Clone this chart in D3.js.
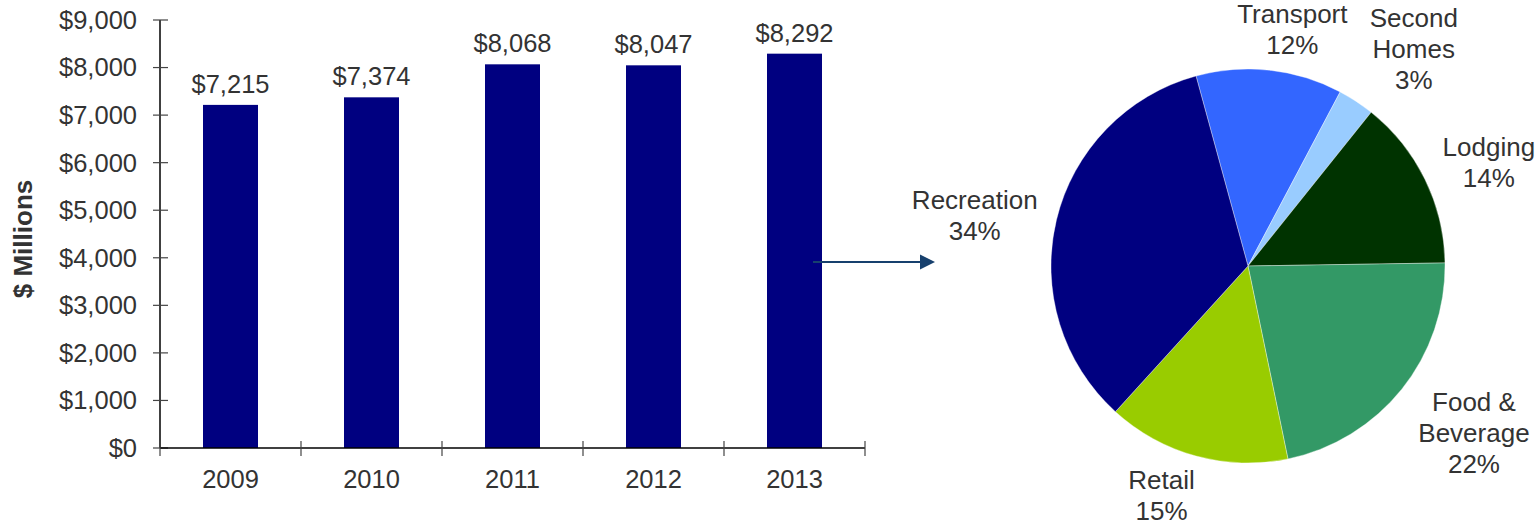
<!DOCTYPE html>
<html>
<head>
<meta charset="utf-8">
<script src="https://cdn.jsdelivr.net/npm/d3@7"></script>
<style>
  html, body { margin: 0; padding: 0; background: #fff; }
  svg { display: block; font-family: "Liberation Sans", Arial, sans-serif; }
</style>
</head>
<body>
<svg id="chart" width="1539" height="527"></svg>
<script>
// Annual spending, $ millions
const years = ["2009", "2010", "2011", "2012", "2013"];
const spending = [7215, 7374, 8068, 8047, 8292];
const yTicks = [0, 1000, 2000, 3000, 4000, 5000, 6000, 7000, 8000, 9000];

// Spending share by category (percent), clockwise order
const categories = ["Transport", "Second Homes", "Lodging", "Food & Beverage", "Retail", "Recreation"];
const shares = [12, 3, 14, 22, 15, 34];
const labelLines = [["Transport"], ["Second", "Homes"], ["Lodging"], ["Food &", "Beverage"], ["Retail"], ["Recreation"]];
const sliceColors = ["#3366ff", "#99ccff", "#003300", "#339966", "#99cc00", "#000080"];

const svg = d3.select("#chart");
const textColor = "#333333";
const barFont = 25.5;

// ---------- Bar chart ----------
const plot = { left: 160, right: 865, top: 20, bottom: 448 };

const x = d3.scaleBand()
  .domain(years)
  .range([plot.left, plot.right])
  .paddingInner(0.61)
  .paddingOuter(0.305);

const y = d3.scaleLinear()
  .domain([0, 9000])
  .range([plot.bottom, plot.top]);

const fmt = d3.format(",");

// y axis line and ticks (ticks cross the axis)
svg.append("line")
  .attr("x1", plot.left).attr("x2", plot.left)
  .attr("y1", y(9000)).attr("y2", y(0))
  .attr("stroke", "#000").attr("stroke-width", 1.5);

const yt = svg.append("g").selectAll("g").data(yTicks).join("g")
  .attr("transform", d => `translate(0,${y(d)})`);
yt.append("line")
  .attr("x1", plot.left - 7).attr("x2", plot.left + 8)
  .attr("stroke", "#444").attr("stroke-width", 1.2);
yt.append("text")
  .attr("x", plot.left - 23)
  .attr("dy", "0.35em")
  .attr("text-anchor", "end")
  .attr("font-size", barFont)
  .attr("fill", textColor)
  .text(d => "$" + fmt(d));

// y axis title
svg.append("text")
  .attr("transform", `translate(32,${(y(9000) + y(0)) / 2 + 5}) rotate(-90)`)
  .attr("text-anchor", "middle")
  .attr("font-size", 26)
  .attr("font-weight", "bold")
  .attr("fill", textColor)
  .text("$ Millions");

// bars
svg.append("g").selectAll("rect").data(years).join("rect")
  .attr("x", d => x(d))
  .attr("width", x.bandwidth())
  .attr("y", (d, i) => y(spending[i]))
  .attr("height", (d, i) => y(0) - y(spending[i]))
  .attr("fill", "#000080");

// value labels
svg.append("g").selectAll("text").data(years).join("text")
  .attr("x", d => x(d) + x.bandwidth() / 2)
  .attr("y", (d, i) => y(spending[i]) - 12)
  .attr("text-anchor", "middle")
  .attr("font-size", barFont)
  .attr("fill", textColor)
  .text((d, i) => "$" + fmt(spending[i]));

// x axis line, category boundary ticks and labels
svg.append("line")
  .attr("x1", plot.left).attr("x2", plot.right)
  .attr("y1", y(0)).attr("y2", y(0))
  .attr("stroke", "#000").attr("stroke-width", 1.5);

const bounds = d3.range(years.length + 1).map(i => plot.left + i * x.step());
svg.append("g").selectAll("line").data(bounds).join("line")
  .attr("x1", d => d).attr("x2", d => d)
  .attr("y1", y(0) - 7).attr("y2", y(0) + 8)
  .attr("stroke", "#444").attr("stroke-width", 1.2);

svg.append("g").selectAll("text").data(years).join("text")
  .attr("x", d => x(d) + x.bandwidth() / 2)
  .attr("y", y(0) + 40)
  .attr("text-anchor", "middle")
  .attr("font-size", barFont)
  .attr("fill", textColor)
  .text(d => d);

// ---------- Arrow from the latest bar to the breakdown ----------
const arrowY = 262;
const lastBarRight = x(years[years.length - 1]) + x.bandwidth();
const arrowColor = "#17406d";
svg.append("line")
  .attr("x1", lastBarRight - 9).attr("x2", 922)
  .attr("y1", arrowY).attr("y2", arrowY)
  .attr("stroke", arrowColor).attr("stroke-width", 2);
svg.append("path")
  .attr("d", `M920,${arrowY - 7.5} L935,${arrowY} L920,${arrowY + 7.5} Z`)
  .attr("fill", arrowColor);

// ---------- Pie chart ----------
const cx = 1248, cy = 266, r = 197;
const start = -15.3 * Math.PI / 180;

const pie = d3.pie().sort(null).value(d => d)
  .startAngle(start).endAngle(start + 2 * Math.PI);
const arcs = pie(shares);
const arc = d3.arc().innerRadius(0).outerRadius(r);

const pg = svg.append("g").attr("transform", `translate(${cx},${cy})`);
pg.selectAll("path").data(arcs).join("path")
  .attr("d", arc)
  .attr("fill", (d, i) => sliceColors[i])
  .attr("stroke", "#ffffff")
  .attr("stroke-width", 0.6)
  .attr("stroke-opacity", 0.6);

// Outside-end labels: the text block is pushed out along the slice's
// mid-angle until it clears the rim by a fixed gap.
const fs = 26, lh = 31, cap = 0.716 * fs, gap = 15;
const angleNudge = [4.3, 4.0, 2.8, -2.3, 5.4, -3.0]; // degrees
const gapNudge = [0, 3, -2, 0, -1, 0];

const lg = svg.append("g");
arcs.forEach((a, i) => {
  const lines = labelLines[i].concat([shares[i] + "%"]);
  const t = lg.append("text")
    .attr("text-anchor", "middle")
    .attr("font-size", fs)
    .attr("fill", textColor);
  lines.forEach((s, k) => t.append("tspan").attr("x", 0).attr("y", k * lh).text(s));
  const bb = t.node().getBBox();
  const w = bb.width;
  const h = (lines.length - 1) * lh + cap;   // cap top of first line to last baseline
  const theta = (a.startAngle + a.endAngle) / 2 + angleNudge[i] * Math.PI / 180;
  const ux = Math.sin(theta), uy = -Math.cos(theta);
  const clearance = d => {
    const bx = ux * d, by = uy * d;
    const nx = Math.max(bx - w / 2, Math.min(0, bx + w / 2));
    const ny = Math.max(by - h / 2, Math.min(0, by + h / 2));
    return Math.hypot(nx, ny);
  };
  let lo = 0, hi = 600;
  for (let it = 0; it < 50; it++) {
    const mid = (lo + hi) / 2;
    if (clearance(mid) < r + gap + gapNudge[i]) lo = mid; else hi = mid;
  }
  const bx = cx + ux * hi, by = cy + uy * hi;
  // first baseline sits cap-height below the block's top edge
  t.attr("transform", `translate(${bx},${by - h / 2 + cap})`);
});
</script>
</body>
</html>
